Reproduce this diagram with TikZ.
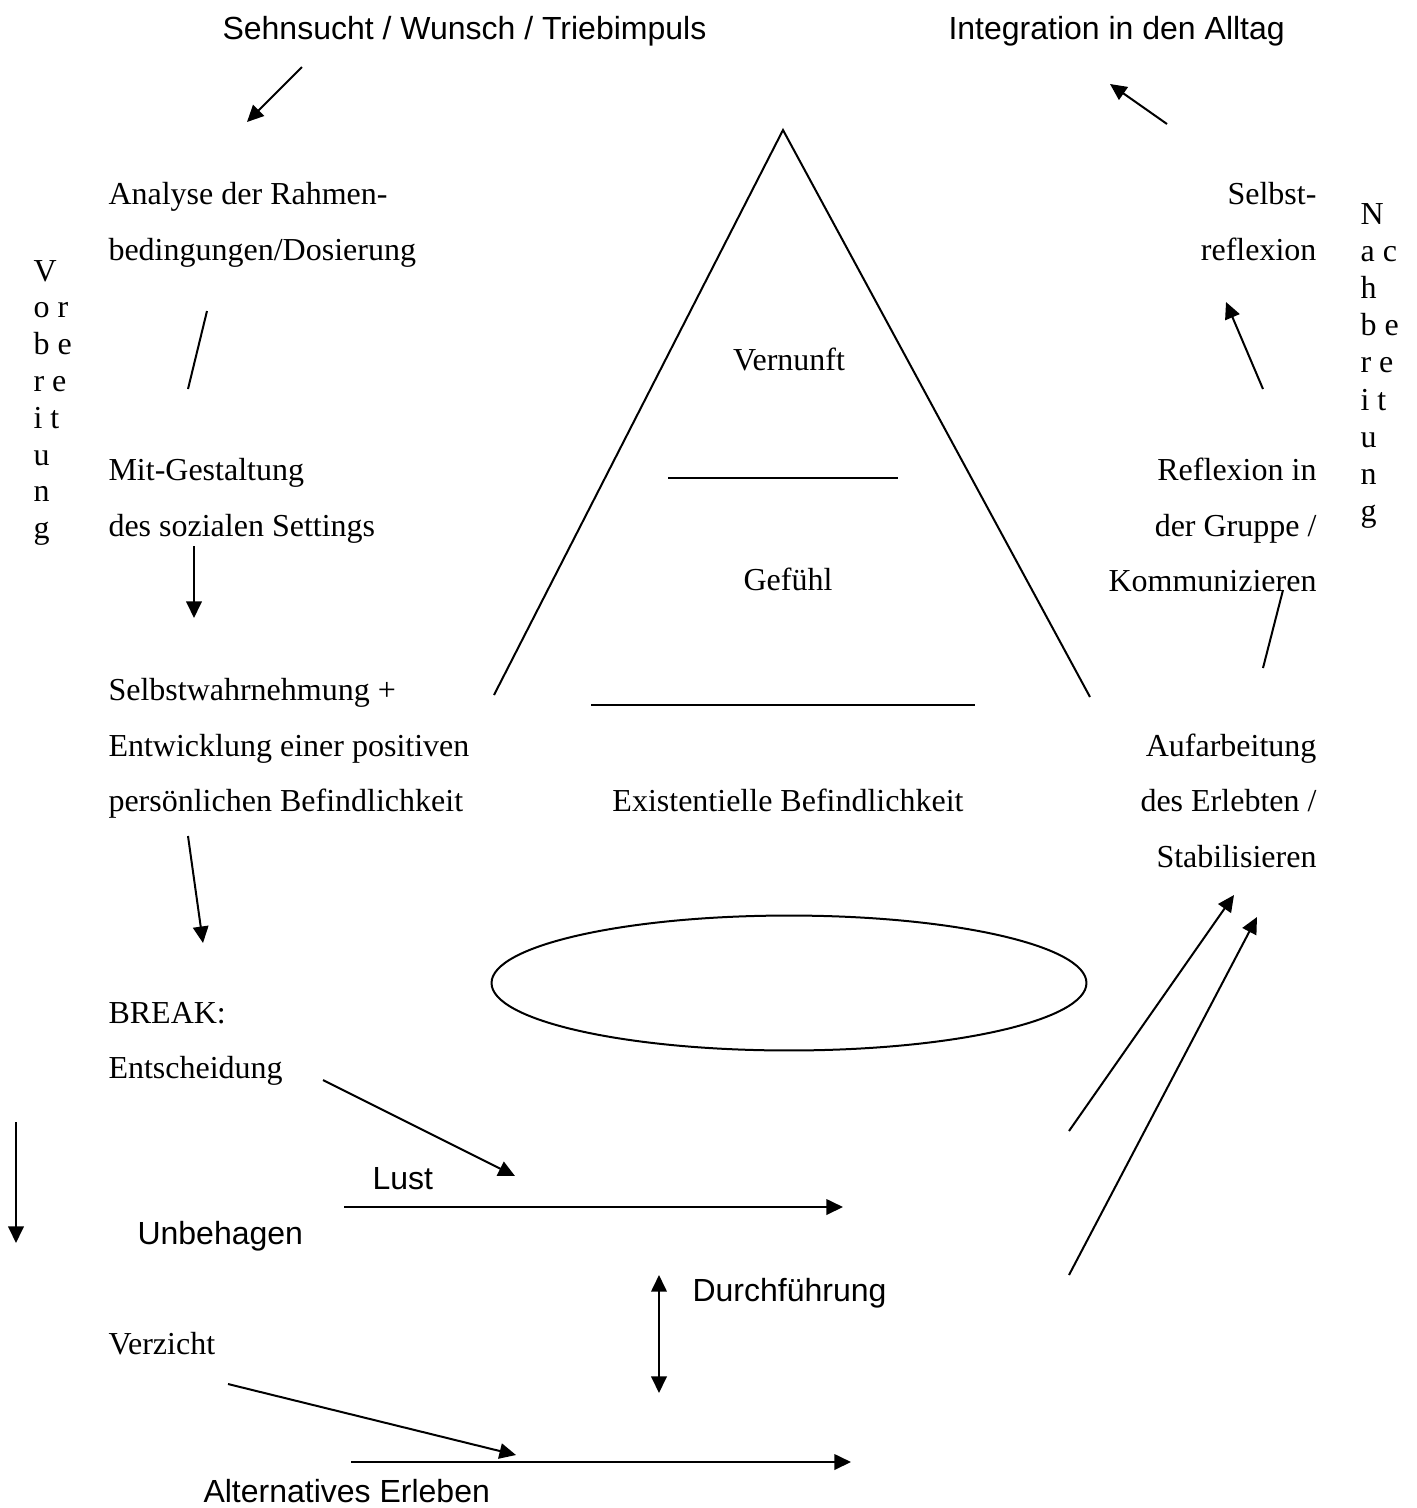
\documentclass[tikz,border=0pt]{standalone}
\usepackage{fontspec}
\setmainfont{Liberation Serif}
\newfontfamily\arialfont{Liberation Sans}
\usetikzlibrary{arrows.meta,shapes.geometric}
\tikzset{
  x=0.375pt, y=-0.375pt,
  txt/.style={inner sep=0pt, font=\fontsize{12}{14}\selectfont},
  stxt/.style={inner sep=0pt, font=\arialfont\fontsize{12}{14}\selectfont},
  tl/.style={txt, anchor=base west},
  tr/.style={txt, anchor=base east},
  tc/.style={txt, anchor=base},
  sl/.style={stxt, anchor=base west},
  tip/.style={Triangle[length=6.2pt,width=5.8pt]},
  arr/.style={line width=0.75pt, -{Triangle[length=6.2pt,width=5.8pt]}},
  darr/.style={line width=0.75pt, {Triangle[length=6.2pt,width=5.8pt]}-{Triangle[length=6.2pt,width=5.8pt]}},
  ln/.style={line width=0.75pt},
}
\begin{document}
\begin{tikzpicture}
\useasboundingbox (0,0) rectangle (1416,1508);
% headings (sans)
\node[sl] (sehn) at (222,39) {Sehnsucht / Wunsch / Triebimpuls};
\node[sl] (integ) at (948,39) {Integration in den Alltag};
% left column
\node[tl] (an1) at (108,204) {Analyse der Rahmen-};
\node[tl] (an2) at (108,260) {bedingungen/Dosierung};
\node[tl] (mit1) at (108,480) {Mit-Gestaltung};
\node[tl] (mit2) at (108,536) {des sozialen Settings};
\node[tl] (sw1) at (108,700) {Selbstwahrnehmung +};
\node[tl] (sw2) at (108,756) {Entwicklung einer positiven};
\node[tl] (sw3) at (108,811) {persönlichen Befindlichkeit};
\node[tl] (br1) at (108,1023) {BREAK:};
\node[tl] (br2) at (108,1078) {Entscheidung};
\node[tl] (verz) at (108,1354) {Verzicht};
\node[sl] (lust) at (372,1189) {Lust};
\node[sl] (unbe) at (137,1244) {Unbehagen};
\node[sl] (durch) at (692,1301) {Durchführung};
\node[sl] (alt) at (203,1502) {Alternatives Erleben};
% right column
\node[tr] (sr1) at (1317,204) {Selbst-};
\node[tr] (sr2) at (1317,260) {reflexion};
\node[tr] (rg1) at (1317,480) {Reflexion in};
\node[tr] (rg2) at (1317,536) {der Gruppe /};
\node[tr] (rg3) at (1317,591) {Kommunizieren};
\node[tr] (au1) at (1317,756) {Aufarbeitung};
\node[tr] (au2) at (1317,811) {des Erlebten /};
\node[tr] (au3) at (1317,867) {Stabilisieren};
% pyramid
\coordinate (apex) at (783,130);
\coordinate (bl) at (494,695);
\coordinate (br) at (1090,697);
\draw[ln] (bl) -- (apex) -- (br);
\coordinate (l1a) at (668,478); \coordinate (l1b) at (898,478);
\coordinate (l2a) at (591,705); \coordinate (l2b) at (975,705);
\draw[ln] (l1a) -- (l1b);
\draw[ln] (l2a) -- (l2b);
\node[tc] (vern) at (789,370) {Vernunft};
\node[tc] (gef) at (788,590) {Gefühl};
\node[tc] (exist) at (788,811) {Existentielle Befindlichkeit};
\node[draw, line width=0.75pt, ellipse, minimum width=223.1pt, minimum height=50.6pt, inner sep=0pt] (ell) at (789,983) {};
% vertical words
\foreach \s [count=\i from 0] in {V,o r,b e,r e,i t,u,n,g}
  \node[tl] (vb\i) at (33,281+36.8*\i) {\s};
\foreach \s [count=\i from 0] in {N,a c,h,b e,r e,i t,u,n,g}
  \node[tl] (nb\i) at (1360,224+37.2*\i) {\s};
% arrows, left
\coordinate (a1s) at (302,67);   \coordinate (a1e) at (247,122);
\draw[arr] (a1s) -- (a1e);
\coordinate (a2s) at (207,311);  \coordinate (a2e) at (188,389);
\draw[ln] (a2s) -- (a2e);
\coordinate (a3s) at (194,546);  \coordinate (a3e) at (194,618);
\draw[arr] (a3s) -- (a3e);
\coordinate (a4s) at (188,836);  \coordinate (a4e) at (203,943);
\draw[arr] (a4s) -- (a4e);
\coordinate (a5s) at (323,1080); \coordinate (a5e) at (515,1176);
\draw[arr] (a5s) -- (a5e);
\coordinate (a6s) at (16,1122);  \coordinate (a6e) at (16,1243);
\draw[arr] (a6s) -- (a6e);
\coordinate (a7s) at (344,1207); \coordinate (a7e) at (843,1207);
\draw[arr] (a7s) -- (a7e);
\coordinate (a8s) at (659,1275); \coordinate (a8e) at (659,1393);
\draw[darr] (a8s) -- (a8e);
\coordinate (a9s) at (228,1384); \coordinate (a9e) at (516,1455);
\draw[arr] (a9s) -- (a9e);
\coordinate (a10s) at (351,1462); \coordinate (a10e) at (851,1462);
\draw[arr] (a10s) -- (a10e);
% arrows, right
\coordinate (b1s) at (1069,1131); \coordinate (b1e) at (1234,895);
\draw[arr] (b1s) -- (b1e);
\coordinate (b2s) at (1069,1275); \coordinate (b2e) at (1257,917);
\draw[arr] (b2s) -- (b2e);
\coordinate (b3s) at (1263,668); \coordinate (b3e) at (1283,590);
\draw[ln] (b3s) -- (b3e);
\coordinate (b4s) at (1263,389); \coordinate (b4e) at (1226,302);
\draw[arr] (b4s) -- (b4e);
\coordinate (b5s) at (1167,124); \coordinate (b5e) at (1110,84);
\draw[arr] (b5s) -- (b5e);
\end{tikzpicture}
\end{document}
